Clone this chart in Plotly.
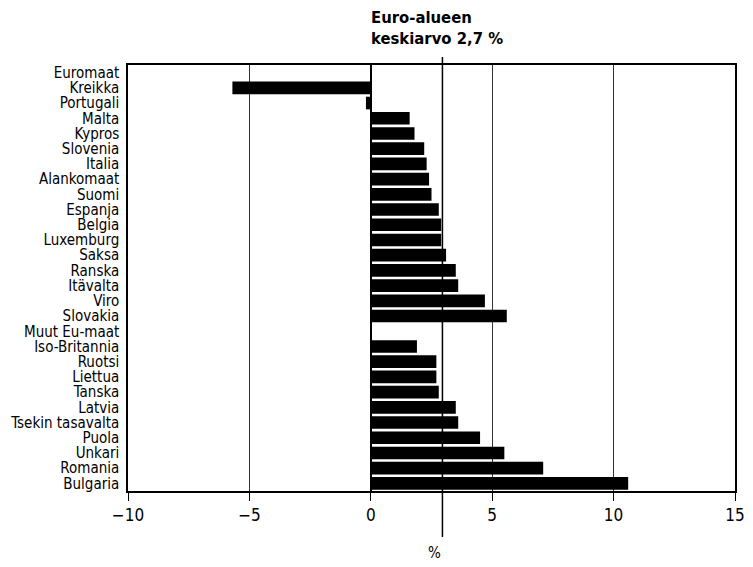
import plotly.graph_objects as go

countries = ["Euromaat", "Kreikka", "Portugali", "Malta", "Kypros", "Slovenia", "Italia",
             "Alankomaat", "Suomi", "Espanja", "Belgia", "Luxemburg", "Saksa", "Ranska",
             "Itävalta", "Viro", "Slovakia", "Muut Eu-maat", "Iso-Britannia", "Ruotsi",
             "Liettua", "Tanska", "Latvia", "Tsekin tasavalta", "Puola", "Unkari",
             "Romania", "Bulgaria"]
values = [None, -5.7, -0.2, 1.6, 1.8, 2.2, 2.3,
          2.4, 2.5, 2.8, 2.9, 2.9, 3.1, 3.5,
          3.6, 4.7, 5.6, None, 1.9, 2.7,
          2.7, 2.8, 3.5, 3.6, 4.5, 5.5,
          7.1, 10.6]
x_ticks = [-10, -5, 0, 5, 10, 15]
x_tick_text = ["\u221210", "\u22125", "0", "5", "10", "15"]
euro_avg_label = "Euro-alueen<br>keskiarvo 2,7 %"
euro_avg_line = 2.95  # position of the reference line as drawn in the source
x_title = "%"

FONT = "DejaVu Sans Condensed, DejaVu Sans, sans-serif"

fig = go.Figure()
fig.add_trace(go.Bar(
    x=values, y=countries, orientation="h",
    marker=dict(color="black", line=dict(width=0)),
    showlegend=False,
))

fig.add_shape(type="line", xref="x", yref="paper",
              x0=euro_avg_line, x1=euro_avg_line, y0=-0.108, y1=1.019,
              line=dict(color="black", width=1.5), layer="above")

fig.add_annotation(text="<b>" + euro_avg_label + "</b>", xref="paper", yref="paper",
                   x=0.397, y=1.035, xanchor="left", yanchor="bottom", align="left",
                   showarrow=False,
                   font=dict(family="DejaVu Sans Condensed, DejaVu Sans", size=16.5, color="black"))

fig.add_annotation(text=x_title, xref="paper", yref="paper",
                   x=0.505, y=-0.145, xanchor="center", yanchor="middle",
                   showarrow=False, font=dict(family=FONT, size=15, color="black"))

fig.update_layout(
    width=737, height=551,
    margin=dict(l=120, r=10, t=57, b=68, autoexpand=False),
    paper_bgcolor="white", plot_bgcolor="white",
    bargap=0.17,
    font=dict(family=FONT, size=15, color="black"),
    xaxis=dict(range=[-10, 15], tickmode="array", tickvals=x_ticks, ticktext=x_tick_text,
               automargin=False, ticklabeloverflow="allow",
               showgrid=True, gridcolor="#333333", gridwidth=1,
               zeroline=True, zerolinecolor="black", zerolinewidth=1.5,
               ticks="outside", ticklen=8, tickcolor="black", tickwidth=1,
               showline=True, linecolor="black", linewidth=1.5, mirror=True,
               tickfont=dict(size=17)),
    yaxis=dict(autorange=False, range=[27.5, -0.5], type="category",
               tickmode="linear", dtick=1, automargin=False,
               showgrid=False, ticks="", showline=True, linecolor="black",
               linewidth=1.5, mirror=True, tickfont=dict(size=15),
               ticklabelstandoff=4),
)

fig.write_html("out.html")
